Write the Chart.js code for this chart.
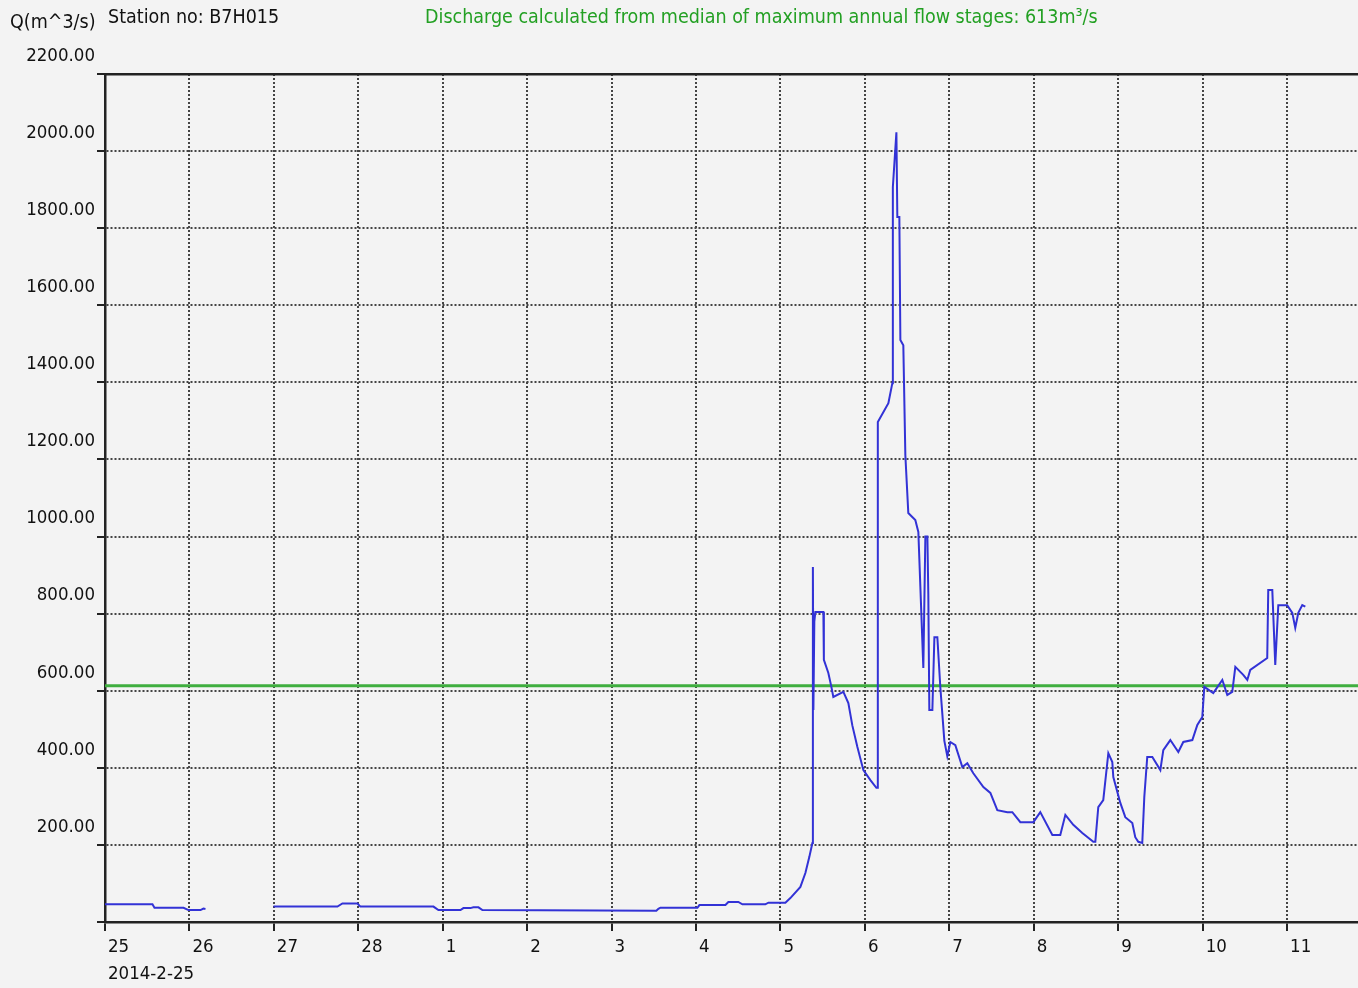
<!DOCTYPE html>
<html>
<head>
<meta charset="utf-8">
<style>
  html, body { margin: 0; padding: 0; background: #f3f3f3; }
  #wrap { width: 1358px; height: 988px; position: relative; }
</style>
<script src="https://cdn.jsdelivr.net/npm/chart.js@4.4.1/dist/chart.umd.min.js"></script>
</head>
<body>
<div id="wrap"><canvas id="c" width="1358" height="988"></canvas></div>
<script>
// ---- data ----
const stationName = 'Station no: B7H015';
const yAxisTitle = 'Q(m^3/s)';
const medianText = 'Discharge calculated from median of maximum annual flow stages: 613m\u00b3/s';
const medianDischarge = 613;
const startDateLabel = '2014-2-25';
// x tick labels: day of month, starting 2014-02-25 (day offset 0)
const dayLabels = ['25','26','27','28','1','2','3','4','5','6','7','8','9','10','11'];
const xMaxDays = 14.84;
const yMax = 2200;
const yStep = 200;
// time in days since 2014-02-25 00:00
const flowDays = [
  0, 0.562, 0.586, 0.930, 0.989, 1.131, 1.166, 1.190,
  1.5,
  1.995, 2.753, 2.812, 2.990, 3.025, 3.890, 3.949, 4.210, 4.245, 4.328, 4.363, 4.423, 4.470,
  6.530, 6.554, 6.578, 7.016, 7.040, 7.348, 7.383, 7.501, 7.549, 7.821, 7.857, 8.058,
  8.117, 8.236, 8.295, 8.342, 8.378, 8.384, 8.390, 8.401, 8.413, 8.508, 8.514, 8.567,
  8.603, 8.626, 8.745, 8.804, 8.851, 8.911, 8.982, 9.065, 9.136, 9.147, 9.153,
  9.278, 9.325, 9.331, 9.373, 9.384, 9.408, 9.420, 9.455, 9.479, 9.514, 9.597, 9.633,
  9.692, 9.716, 9.740, 9.751, 9.763, 9.799, 9.823, 9.858, 9.893, 9.941, 9.976, 10.012,
  10.071, 10.154, 10.213, 10.284, 10.403, 10.486, 10.568, 10.687, 10.746, 10.841, 10.995,
  11.077, 11.220, 11.314, 11.374, 11.468, 11.575, 11.705, 11.729, 11.764, 11.823, 11.883,
  11.930, 11.942, 12.025, 12.084, 12.167, 12.202, 12.238, 12.285, 12.309, 12.344, 12.404,
  12.499, 12.534, 12.617, 12.712, 12.771, 12.878, 12.937, 12.996, 13.020, 13.126, 13.233,
  13.292, 13.351, 13.387, 13.481, 13.529, 13.564, 13.765, 13.777, 13.825, 13.860, 13.896,
  14.002, 14.062, 14.097, 14.133, 14.180, 14.216
];
// discharge in m^3/s (null = no record)
const flowValues = [
  46, 46, 37, 37, 31, 31, 35, 34,
  null,
  40, 40, 48, 48, 40, 40, 31, 31, 36, 36, 38, 38, 31,
  29, 34, 37, 37, 44, 44, 52, 52, 46, 46, 50, 50,
  62, 91, 127, 169, 205, 921, 550, 780, 804, 804, 680, 646,
  610, 584, 597, 568, 510, 454, 394, 368, 348, 348, 1297,
  1346, 1398, 1907, 2049, 1829, 1829, 1510, 1496, 1211, 1061, 1043, 1012,
  659, 1000, 1000, 850, 550, 550, 739, 739, 610, 470, 430, 467,
  459, 402, 412, 386, 350, 335, 290, 285, 285, 259, 259,
  285, 226, 226, 278, 252, 231, 208, 208, 298, 316, 438,
  415, 376, 309, 272, 257, 220, 208, 205, 324, 428, 428,
  394, 446, 472, 441, 467, 472, 511, 532, 610, 594, 628,
  589, 597, 662, 641, 628, 654, 685, 861, 861, 667, 822,
  822, 802, 763, 802, 822, 818
];

// ---- chart ----
const flowPoints = flowDays.map((d, i) => ({ x: d, y: flowValues[i] }));
const medianPoints = [{ x: 0, y: medianDischarge }, { x: xMaxDays, y: medianDischarge }];

const narrow = "'DejaVu Sans Condensed', 'Liberation Sans', sans-serif";

const bgPlugin = {
  id: 'bg',
  beforeDraw(chart) {
    const ctx = chart.ctx;
    ctx.save();
    ctx.fillStyle = '#f3f3f3';
    ctx.fillRect(0, 0, chart.width, chart.height);
    ctx.restore();
  }
};

const textPlugin = {
  id: 'texts',
  afterDraw(chart) {
    const ctx = chart.ctx;
    ctx.save();
    ctx.textBaseline = 'middle';
    ctx.textAlign = 'left';
    ctx.font = '19.5px ' + narrow;
    ctx.fillStyle = '#111';
    ctx.fillText(yAxisTitle, 10, 23);
    ctx.fillText(stationName, 108, 18);
    ctx.fillStyle = '#23a023';
    ctx.fillText(medianText, 425, 18);
    ctx.restore();
  }
};

new Chart(document.getElementById('c'), {
  type: 'line',
  data: {
    datasets: [
      {
        label: 'Discharge',
        data: flowPoints,
        borderColor: '#3232d6',
        borderWidth: 2,
        pointRadius: 0,
        tension: 0,
        spanGaps: false,
        order: 1
      },
      {
        label: 'Median',
        data: medianPoints,
        borderColor: '#3fae3f',
        borderWidth: 3,
        pointRadius: 0,
        tension: 0,
        order: 2
      }
    ]
  },
  options: {
    responsive: false,
    animation: false,
    devicePixelRatio: 1,
    layout: { padding: { top: 74, left: 0, right: 0, bottom: 0 } },
    plugins: { legend: { display: false }, tooltip: { enabled: false }, title: { display: false } },
    scales: {
      x: {
        type: 'linear',
        position: 'bottom',
        min: 0,
        max: xMaxDays,
        afterBuildTicks(s) { s.ticks = s.ticks.filter(t => Number.isInteger(t.value)); },
        afterFit(s) { s.height = 66; },
        ticks: {
          stepSize: 1,
          includeBounds: false,
          autoSkip: false,
          maxRotation: 0,
          align: 'start',
          labelOffset: 3,
          padding: 3,
          color: '#111',
          font: { family: narrow, size: 18.5, lineHeight: 1.45 },
          callback(v) {
            const lbl = dayLabels[v];
            if (lbl === undefined) return '';
            return v === 0 ? [lbl, startDateLabel] : lbl;
          }
        },
        grid: {
          color: '#444',
          lineWidth: 2,
          drawTicks: true,
          tickLength: 9,
          tickColor: '#222',
          tickWidth: 2,
          tickBorderDash: []
        },
        border: { display: true, color: '#222', width: 2.5, dash: [2, 2] }
      },
      xTop: {
        type: 'linear',
        position: 'top',
        min: 0,
        max: xMaxDays,
        afterFit(s) { s.height = 0; },
        ticks: { display: false },
        grid: { display: false, drawTicks: false },
        border: { display: true, color: '#222', width: 2.5 }
      },
      y: {
        type: 'linear',
        position: 'left',
        min: 0,
        max: yMax,
        afterFit(s) { s.width = 105; },
        ticks: {
          stepSize: yStep,
          autoSkip: false,
          labelOffset: -18,
          padding: 2,
          color: '#111',
          font: { family: narrow, size: 18.5 },
          callback(v) { return v === 0 ? '' : v.toFixed(2); }
        },
        grid: {
          color: '#444',
          lineWidth: 2,
          drawTicks: true,
          tickLength: 8,
          tickColor: '#222',
          tickWidth: 2,
          tickBorderDash: []
        },
        border: { display: true, color: '#222', width: 2.5, dash: [2, 2] }
      }
    }
  },
  plugins: [bgPlugin, textPlugin]
});
</script>
</body>
</html>
